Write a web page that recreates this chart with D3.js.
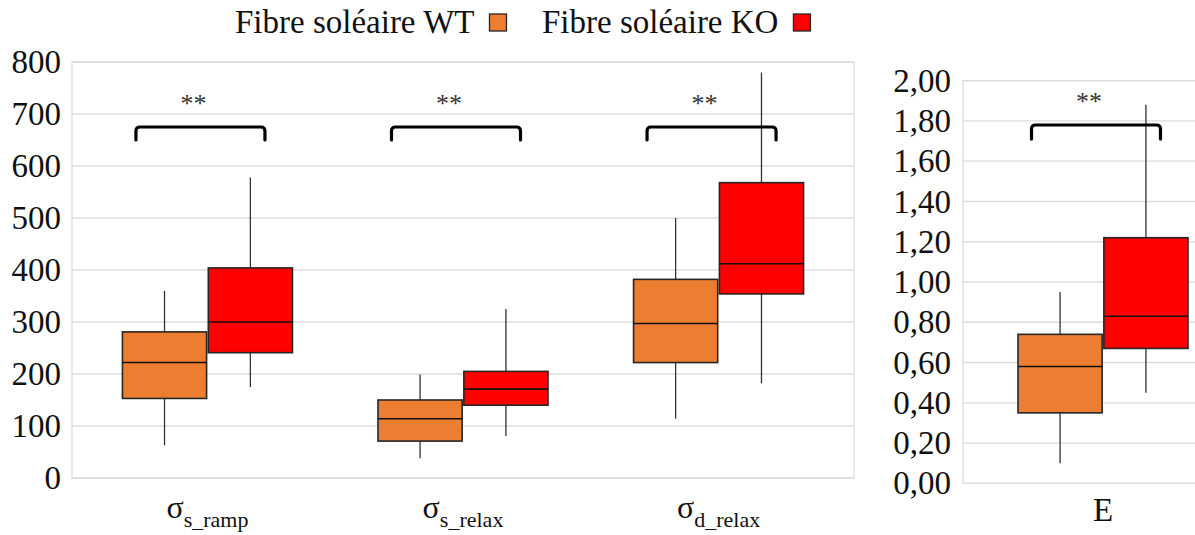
<!DOCTYPE html>
<html><head><meta charset="utf-8">
<script src="https://cdn.jsdelivr.net/npm/d3@7"></script>
<style>body{margin:0;background:#fff}svg{display:block;font-family:"Liberation Serif","Times New Roman",serif}svg text{font-family:"Liberation Serif","Times New Roman",serif}</style>
</head><body><svg id="c" width="1195" height="535"></svg>
<script>
// ---- data ----
const categories = ["s_ramp", "s_relax", "d_relax"];   // subscripts of σ
const categorySymbol = "σ";
const series = ["Fibre soléaire WT", "Fibre soléaire KO"];
const seriesColors = ["#ED7D31", "#FF0000"];
// box statistics per category (left panel)
const wtMin = [63, 38, 114];
const wtQ1  = [153, 71, 222];
const wtMed = [222, 114, 297];
const wtQ3  = [281, 150, 382];
const wtMax = [360, 199, 500];
const koMin = [175, 81, 182];
const koQ1  = [241, 140, 354];
const koMed = [300, 171, 412];
const koQ3  = [404, 205, 568];
const koMax = [578, 325, 780];
// right panel (E)
const eCategories = ["E"];
const eWtMin = [0.10], eWtQ1 = [0.35], eWtMed = [0.58], eWtQ3 = [0.74], eWtMax = [0.95];
const eKoMin = [0.45], eKoQ1 = [0.67], eKoMed = [0.83], eKoQ3 = [1.22], eKoMax = [1.88];
const leftTicks = [0, 100, 200, 300, 400, 500, 600, 700, 800];
const rightTicks = [0, 0.2, 0.4, 0.6, 0.8, 1.0, 1.2, 1.4, 1.6, 1.8, 2.0];
const sigLeft = ["**", "**", "**"];
const sigRight = ["**"];

// ---- drawing ----
const svg = d3.select("#c");
const serif = '"Liberation Serif", "Times New Roman", serif';
const gridColor = "#dcdcdc";
const commaFmt = v => d3.format(".2f")(v).replace(".", ",");

function drawPanel(opts) {
  const { x0, x1, yBottom, yTop, domain, ticks, tickFmt, cats, labelFn, wt, ko, sig, brTop, brLeg, starY, labelY } = opts;
  const g = svg.append("g");
  const y = d3.scaleLinear().domain(domain).range([yBottom, yTop]);
  const x = d3.scaleBand().domain(cats).range([x0, x1]).paddingOuter(opts.padOuter || 0).paddingInner(0);

  // grid
  g.append("g").selectAll("line").data(ticks).join("line")
    .attr("x1", x0).attr("x2", x1)
    .attr("y1", d => y(d)).attr("y2", d => y(d))
    .attr("stroke", gridColor).attr("stroke-width", 1.3);
  g.append("rect").attr("x", x0).attr("y", y(domain[1])).attr("width", x1 - x0)
    .attr("height", y(domain[0]) - y(domain[1])).attr("fill", "none")
    .attr("stroke", gridColor).attr("stroke-width", 1.3);

  // axis labels
  const axis = d3.axisLeft(y).tickValues(ticks).tickFormat(tickFmt).tickSize(0).tickPadding(opts.tickPad);
  const ag = g.append("g").attr("transform", `translate(${x0},0)`).call(axis);
  ag.attr("font-family", null).attr("font-size", null)
    .style("font-family", serif).style("font-size", "33px");
  ag.select(".domain").remove();
  ag.selectAll("text").style("font-family", serif).style("font-size", "33px").attr("fill", "#111");

  cats.forEach((c, i) => {
    const cx = x(c) + x.bandwidth() / 2;
    const sub = d3.scaleBand().domain([0, 1]).range([cx - 85, cx + 85]).paddingInner(0.02);
    [wt, ko].forEach((s, k) => {
      const bx = sub(k), bw = sub.bandwidth(), mx = bx + bw / 2;
      g.append("line").attr("x1", mx).attr("x2", mx)
        .attr("y1", y(s.max[i])).attr("y2", y(s.min[i]))
        .attr("stroke", "#333").attr("stroke-width", 1.3);
      g.append("rect").attr("x", bx).attr("width", bw)
        .attr("y", y(s.q3[i])).attr("height", y(s.q1[i]) - y(s.q3[i]))
        .attr("fill", seriesColors[k]).attr("stroke", "#262626").attr("stroke-width", 1.6);
      g.append("line").attr("x1", bx).attr("x2", bx + bw)
        .attr("y1", y(s.med[i])).attr("y2", y(s.med[i]))
        .attr("stroke", "#111").attr("stroke-width", 1.6);
    });
    // significance bracket
    const bc = cx - 7, bxl = bc - 64.5, bxr = bc + 64.5, yt = y(brTop), yl = y(brLeg), r = 4;
    g.append("path")
      .attr("d", `M${bxl},${yl} L${bxl},${yt + r} Q${bxl},${yt} ${bxl + r},${yt} L${bxr - r},${yt} Q${bxr},${yt} ${bxr},${yt + r} L${bxr},${yl}`)
      .attr("fill", "none").attr("stroke", "#000").attr("stroke-width", 3.2).attr("stroke-linecap", "round");
    g.append("text").attr("x", bc - 7).attr("y", y(starY)).attr("text-anchor", "middle")
      .style("font-family", serif).attr("font-size", 26).attr("fill", "#333").text(sig[i]);
    // category label
    const t = g.append("text").attr("x", cx).attr("y", labelY).attr("text-anchor", "middle")
      .style("font-family", serif).attr("fill", "#111");
    labelFn(t, c);
  });
}

drawPanel({
  x0: 72, x1: 854, yBottom: 478, yTop: 62, domain: [0, 800], ticks: leftTicks,
  tickFmt: d3.format("d"), tickPad: 11, cats: categories, padOuter: 0.03,
  labelFn: (t, c) => {
    t.append("tspan").attr("font-size", 32).text(categorySymbol);
    t.append("tspan").attr("font-size", 22).attr("dy", 9).text(c);
  },
  labelY: 518,
  wt: { min: wtMin, q1: wtQ1, med: wtMed, q3: wtQ3, max: wtMax },
  ko: { min: koMin, q1: koQ1, med: koMed, q3: koQ3, max: koMax },
  sig: sigLeft, brTop: 675, brLeg: 650, starY: 704
});

drawPanel({
  x0: 963, x1: 1243, yBottom: 483.3, yTop: 80.7, domain: [0, 2], ticks: rightTicks,
  tickFmt: commaFmt, tickPad: 12, cats: eCategories,
  labelFn: (t, c) => { t.attr("font-size", 33).text(c); },
  labelY: 521,
  wt: { min: eWtMin, q1: eWtQ1, med: eWtMed, q3: eWtQ3, max: eWtMax },
  ko: { min: eKoMin, q1: eKoQ1, med: eKoMed, q3: eKoQ3, max: eKoMax },
  sig: sigRight, brTop: 1.78, brLeg: 1.71, starY: 1.855
});

// legend
const legendX = [235, 542];
series.forEach((s, k) => {
  const t = svg.append("text").attr("x", legendX[k]).attr("y", 33)
    .style("font-family", serif).attr("font-size", 33).attr("fill", "#111").text(s);
  const w = t.node().getComputedTextLength();
  svg.append("rect").attr("x", legendX[k] + w + 15).attr("y", 14).attr("width", 17).attr("height", 17)
    .attr("fill", seriesColors[k]).attr("stroke", "#262626").attr("stroke-width", 1.3);
});
</script></body></html>
